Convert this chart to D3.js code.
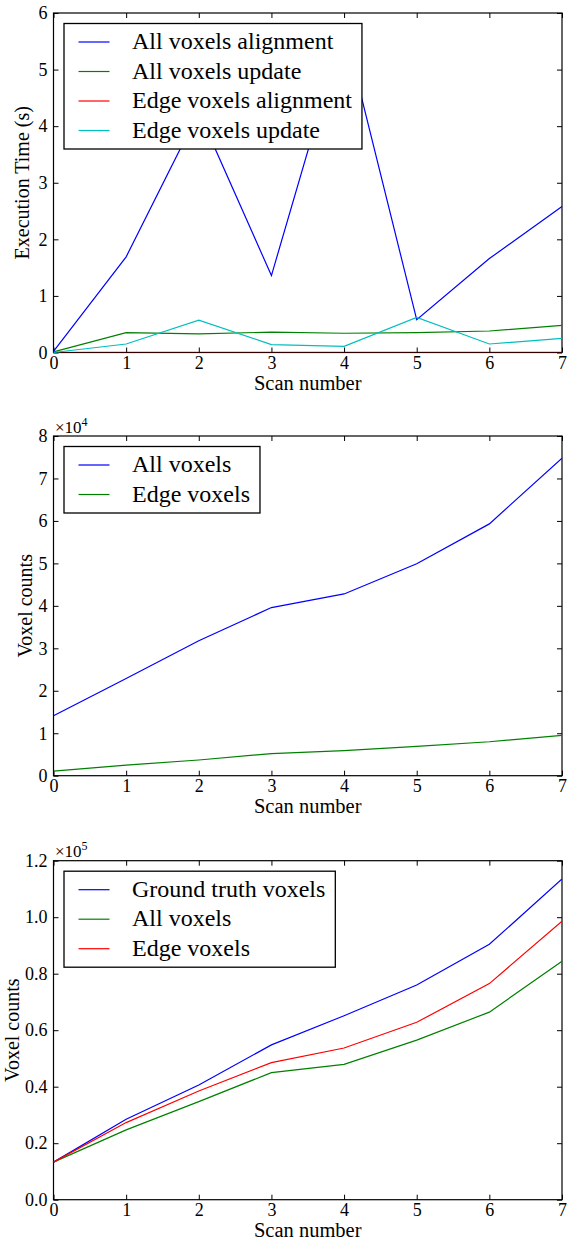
<!DOCTYPE html>
<html>
<head>
<meta charset="utf-8">
<style>
  body { margin: 0; background: #fff; }
  svg { display: block; }
  svg text { font-family: "Liberation Serif", "Times New Roman", "DejaVu Serif", serif; fill: #000; }
</style>
</head>
<body>
<svg width="570" height="1241"></svg>
<script src="https://cdn.jsdelivr.net/npm/d3@7/dist/d3.min.js"></script>
<script>

// ---- data ----
var scans = [0, 1, 2, 3, 4, 5, 6, 7];

// panel 1: execution time in seconds
var allAlign   = [0.02, 1.69, 4.25, 1.36, 5.75, 0.58, 1.66, 2.58];
var allUpdate  = [0.01, 0.35, 0.33, 0.36, 0.34, 0.35, 0.38, 0.48];
var edgeAlign  = [0.004, 0.006, 0.006, 0.005, 0.006, 0.006, 0.005, 0.006];
var edgeUpdate = [0.0, 0.15, 0.57, 0.14, 0.11, 0.62, 0.15, 0.25];

// panel 2: voxel counts
var allVoxels  = [14100, 22900, 31800, 39600, 42800, 49900, 59300, 74800];
var edgeVoxels = [1100, 2500, 3700, 5200, 5900, 6900, 8000, 9500];

// panel 3: voxel counts vs ground truth
var truthVoxels = [13300, 28500, 40600, 54800, 65100, 76000, 90400, 113500];
var allVoxels2  = [13300, 24700, 34700, 45000, 47900, 56500, 66400, 84400];
var edgeVoxels2 = [13300, 27300, 38500, 48500, 53700, 62800, 76500, 98600];

// tick values
var timeTicks   = [0, 1, 2, 3, 4, 5, 6];
var countTicks  = [0, 10000, 20000, 30000, 40000, 50000, 60000, 70000, 80000];
var truthTicks  = [0, 20000, 40000, 60000, 80000, 100000, 120000];

var blue = "#0000ff", green = "#008000", red = "#ff0000", cyan = "#00bfbf";

var panels = [
    {top: 13, bottom: 352.5, yMax: 6, ticks: timeTicks, fmt: function(d) { return d; },
     yLabel: "Execution Time (s)", labelX: 29, exp: null,
     series: [
        {name: "All voxels alignment", values: allAlign, color: blue},
        {name: "All voxels update", values: allUpdate, color: green},
        {name: "Edge voxels alignment", values: edgeAlign, color: red},
        {name: "Edge voxels update", values: edgeUpdate, color: cyan}
     ]},
    {top: 436, bottom: 775.7, yMax: 80000, ticks: countTicks, fmt: function(d) { return d / 1e4; },
     yLabel: "Voxel counts", labelX: 32, exp: "4",
     series: [
        {name: "All voxels", values: allVoxels, color: blue},
        {name: "Edge voxels", values: edgeVoxels, color: green}
     ]},
    {top: 860.7, bottom: 1199.7, yMax: 120000, ticks: truthTicks, fmt: function(d) { return (d / 1e5).toFixed(1); },
     yLabel: "Voxel counts", labelX: 19, exp: "5",
     series: [
        {name: "Ground truth voxels", values: truthVoxels, color: blue},
        {name: "All voxels", values: allVoxels2, color: green},
        {name: "Edge voxels", values: edgeVoxels2, color: red}
     ]}
];

var svg = d3.select("svg");
var left = 53.5, right = 562;

var x = d3.scaleLinear().domain([0, 7]).range([left, right]);

panels.forEach(function(p, pi) {
    var y = d3.scaleLinear().domain([0, p.yMax]).range([p.bottom, p.top]);
    var g = svg.append("g");

    g.append("clipPath").attr("id", "clip" + pi)
        .append("rect")
        .attr("x", left).attr("y", p.top - 1)
        .attr("width", right - left).attr("height", p.bottom - p.top + 2);

    var line = d3.line()
        .x(function(d, i) { return x(scans[i]); })
        .y(function(d) { return y(d); });

    // axes, ticks inward on all four sides
    var xb = g.append("g").attr("transform", "translate(0," + p.bottom + ")")
        .call(d3.axisBottom(x).tickValues(scans).tickSize(-5).tickPadding(4).tickFormat(d3.format("d")));
    var xt = g.append("g").attr("transform", "translate(0," + p.top + ")")
        .call(d3.axisTop(x).tickValues(scans).tickSize(-5).tickFormat(""));
    var yl = g.append("g").attr("transform", "translate(" + left + ",0)")
        .call(d3.axisLeft(y).tickValues(p.ticks).tickSize(-5).tickPadding(6).tickFormat(p.fmt));
    var yr = g.append("g").attr("transform", "translate(" + right + ",0)")
        .call(d3.axisRight(y).tickValues(p.ticks).tickSize(-5).tickFormat(""));

    [xb, xt, yl, yr].forEach(function(a) {
        a.attr("font-family", null);
        a.select(".domain").remove();
        a.selectAll("line").attr("stroke", "#000").attr("stroke-width", 1);
        a.selectAll("text").attr("font-size", 18).attr("fill", "#000");
    });

    g.append("rect")
        .attr("x", left).attr("y", p.top)
        .attr("width", right - left).attr("height", p.bottom - p.top)
        .attr("fill", "none").attr("stroke", "#000").attr("stroke-width", 1.2);

    // lines drawn over the frame; a near-zero red line tints the bottom spine as in the original
    g.append("g").attr("clip-path", "url(#clip" + pi + ")")
        .selectAll("path")
        .data(p.series)
        .enter().append("path")
        .attr("d", function(s) { return line(s.values); })
        .attr("fill", "none")
        .attr("stroke", function(s) { return s.color; })
        .attr("stroke-opacity", function(s) { return pi === 0 && s.color === red ? 0.25 : 1; })
        .attr("stroke-width", 1.2);

    // axis labels
    g.append("text")
        .attr("x", (left + right) / 2).attr("y", p.bottom + 37)
        .attr("text-anchor", "middle").attr("font-size", 20.5)
        .text("Scan number");

    g.append("text")
        .attr("transform", "translate(" + p.labelX + "," + ((p.top + p.bottom) / 2) + ") rotate(-90)")
        .attr("text-anchor", "middle").attr("font-size", 20)
        .text(p.yLabel);

    if (p.exp) {
        var ot = g.append("text")
            .attr("x", left + 1.5).attr("y", p.top - 3.5)
            .attr("font-size", 17);
        ot.append("tspan").text("\u00d710");
        ot.append("tspan").attr("font-size", 12).attr("dy", -7).text(p.exp);
    }

    // legend
    var lx = left + 10.5, ly = p.top + 10.5, rowH = 29.5, pad = 18.5;
    var lg = g.append("g");
    var box = lg.append("rect")
        .attr("x", lx).attr("y", ly)
        .attr("height", pad * 2 + rowH * (p.series.length - 1))
        .attr("fill", "#fff").attr("stroke", "#000").attr("stroke-width", 1.3);

    var maxW = 0;
    p.series.forEach(function(s, i) {
        var ry = ly + pad + i * rowH;
        lg.append("line")
            .attr("x1", lx + 14.5).attr("x2", lx + 45.5)
            .attr("y1", ry).attr("y2", ry)
            .attr("stroke", s.color).attr("stroke-width", 1.2);
        var t = lg.append("text")
            .attr("x", lx + 68).attr("y", ry + 7)
            .attr("font-size", 24)
            .text(s.name);
        maxW = Math.max(maxW, t.node().getComputedTextLength());
    });
    box.attr("width", 68 + maxW + 10);
});

</script>
</body>
</html>
